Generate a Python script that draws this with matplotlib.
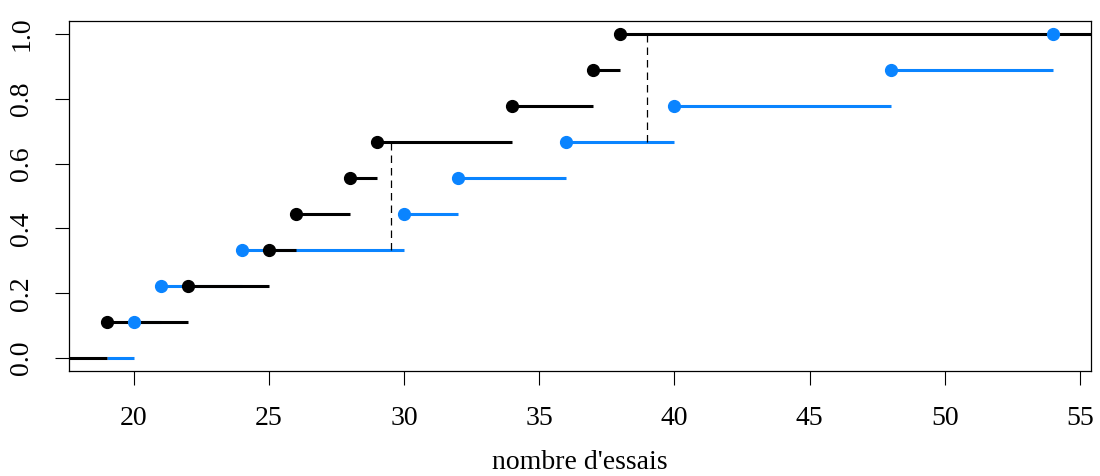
import numpy as np
import matplotlib
matplotlib.use("Agg")
import matplotlib.pyplot as plt

plt.rcParams['font.family'] = ['Liberation Serif', 'DejaVu Serif']

black_x = [19, 22, 25, 26, 28, 29, 34, 37, 38]
blue_x = [20, 21, 24, 30, 32, 36, 40, 48, 54]
ks_x = [29.5, 39]
ks_lo = [3/9, 6/9]
ks_hi = [6/9, 1.0]
xticks = [20, 25, 30, 35, 40, 45, 50, 55]
yticks = [0.0, 0.2, 0.4, 0.6, 0.8, 1.0]
xlim = (17.6, 55.4)
ylim = (-0.04, 1.04)

BLUE = "#0A84FF"

fig = plt.figure(figsize=(11, 4.76), dpi=100)
ax = fig.add_axes([0.0627, 0.2206, 0.9288, 0.7353])

def ecdf_segments(xs, left, right):
    xs = np.sort(np.asarray(xs, float))
    n = len(xs)
    ys = np.arange(1, n + 1) / n
    segs = [(left, xs[0], 0.0)]
    for i in range(n):
        x1 = xs[i + 1] if i + 1 < n else right
        segs.append((xs[i], x1, ys[i]))
    return xs, ys, segs

bx, by, bsegs = ecdf_segments(blue_x, black_x[0], blue_x[-1])
kx, ky, ksegs = ecdf_segments(black_x, xlim[0], xlim[1])

for x0, x1, y in bsegs:
    ax.plot([x0, x1], [y, y], color=BLUE, lw=2.2, solid_capstyle='butt')
for x0, x1, y in ksegs:
    ax.plot([x0, x1], [y, y], color='black', lw=2.2, solid_capstyle='butt')

for x, lo, hi in zip(ks_x, ks_lo, ks_hi):
    ax.plot([x, x], [lo, hi], color='black', lw=0.9, ls=(0, (6, 4)))

ax.plot(kx, ky, 'o', color='black', ms=8.5, zorder=5)
ax.plot(bx, by, 'o', color=BLUE, ms=8.5, zorder=5)

ax.set_xlim(*xlim)
ax.set_ylim(*ylim)
ax.set_xticks(xticks)
ax.set_xticklabels([str(t) for t in xticks])
ax.set_yticks(yticks)
ax.set_yticklabels([f"{t:.1f}" for t in yticks], rotation=90, va='center')
ax.tick_params(axis='both', labelsize=20, length=10, width=0.8, pad=15, direction='out')
for s in ax.spines.values():
    s.set_linewidth(0.9)
ax.set_xlabel("nombre d'essais", fontsize=20, labelpad=14)

fig.savefig("out.png", dpi=100)
